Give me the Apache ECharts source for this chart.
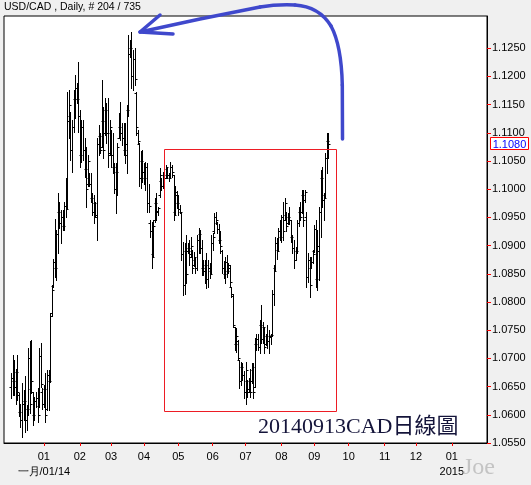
<!DOCTYPE html>
<html>
<head>
<meta charset="utf-8">
<script src="https://cdn.jsdelivr.net/npm/echarts@6/dist/echarts.min.js"></script>
<style>
html,body{margin:0;padding:0;background:#f0f0f0;}
#c{width:531px;height:485px;}
</style>
</head>
<body>
<div id="c"></div>
<script>
// ---------- DATA ----------
const chartTitle = 'USD/CAD , Daily, # 204 / 735';
const calendarStart = '2013-11-27';
const calendarEnd = '2015-02-02';
const lastBarDate = '2014-09-12';

const opens = [
1.0650,1.0665,1.0660,1.0650,1.0675,1.0635,1.0605,1.0590,1.0620,1.0625,
1.0590,1.0610,1.0700,1.0645,1.0640,1.0600,1.0625,1.0630,1.0615,1.0705,
1.0640,1.0620,1.0645,1.0610,1.0670,1.0660,1.0780,1.0828,1.0870,1.0860,
1.0920,1.0960,1.0940,1.0950,1.0935,1.0970,1.0970,1.1120,1.1130,1.1070,
1.1110,1.1160,1.1180,1.1160,1.1130,1.1060,1.1110,1.1070,1.1035,1.1010,
1.1020,1.1010,1.0985,1.0960,1.0975,1.0950,1.1080,1.1095,1.1075,1.1120,
1.1100,1.1140,1.1100,1.1065,1.1100,1.1060,1.1040,1.1000,1.1030,1.1090,
1.1110,1.1100,1.1090,1.1070,1.1060,1.1140,1.1240,1.1250,1.1200,1.1230,
1.1170,1.1100,1.1080,1.1020,1.1050,1.1030,1.1020,1.1040,1.0975,1.0940,
1.0925,1.0885,1.0945,1.0975,1.0962,1.0990,1.1015,1.1005,1.1025,1.1020,
1.1035,1.1025,1.1020,1.1040,1.1025,1.0960,1.0990,1.0975,1.0965,1.0960,
1.0885,1.0830,1.0890,1.0890,1.0895,1.0885,1.0890,1.0865,1.0875,1.0860,
1.0910,1.0920,1.0895,1.0860,1.0855,1.0865,1.0840,1.0860,1.0855,1.0905,
1.0925,1.0950,1.0940,1.0930,1.0910,1.0890,1.0860,1.0850,1.0870,1.0855,
1.0860,1.0827,1.0810,1.0755,1.0725,1.0730,1.0697,1.0660,1.0685,1.0670,
1.0640,1.0660,1.0645,1.0660,1.0660,1.0680,1.0650,1.0725,1.0735,1.0720,
1.0760,1.0735,1.0755,1.0725,1.0740,1.0730,1.0738,1.0742,1.0815,1.0860,
1.0905,1.0892,1.0925,1.0915,1.0950,1.0945,1.0955,1.0940,1.0950,1.0945,
1.0915,1.0895,1.0875,1.0890,1.0940,1.0960,1.0960,1.0990,1.0980,1.0950,
1.0845,1.0875,1.0860,1.0870,1.0890,1.0930,1.0840,1.0890,1.0960,1.1020,
1.0980,1.0990,1.1055,1.1085
];
const highs = [
1.0674,1.0706,1.0697,1.0682,1.0706,1.0638,1.0620,1.0656,1.0644,1.0668,
1.0617,1.0718,1.0730,1.0733,1.0641,1.0632,1.0641,1.0647,1.0718,1.0727,
1.0647,1.0653,1.0674,1.0680,1.0680,1.0780,1.0830,1.0877,1.0948,1.0928,
1.0993,1.0978,1.0963,1.0963,1.0978,1.1019,1.1173,1.1176,1.1137,1.1123,
1.1176,1.1202,1.1188,1.1226,1.1140,1.1123,1.1123,1.1090,1.1075,1.1061,
1.1028,1.1028,1.0993,1.0990,1.0978,1.1090,1.1114,1.1099,1.1194,1.1146,
1.1161,1.1152,1.1161,1.1123,1.1105,1.1099,1.1046,1.1046,1.1081,1.1135,
1.1155,1.1117,1.1117,1.1117,1.1149,1.1273,1.1265,1.1279,1.1247,1.1250,
1.1173,1.1105,1.1081,1.1067,1.1070,1.1046,1.1049,1.1046,1.1010,1.0945,
1.0942,1.0945,1.0984,1.0993,1.0969,1.1037,1.1019,1.1031,1.1028,1.1043,
1.1040,1.1028,1.1049,1.1043,1.1025,1.1005,1.0996,1.0990,1.0972,1.0960,
1.0907,1.0904,1.0919,1.0904,1.0910,1.0916,1.0892,1.0889,1.0880,1.0919,
1.0931,1.0928,1.0910,1.0874,1.0874,1.0886,1.0874,1.0869,1.0919,1.0922,
1.0957,1.0960,1.0942,1.0939,1.0925,1.0892,1.0872,1.0880,1.0883,1.0869,
1.0865,1.0827,1.0815,1.0756,1.0753,1.0733,1.0697,1.0694,1.0691,1.0677,
1.0694,1.0662,1.0665,1.0682,1.0691,1.0691,1.0736,1.0744,1.0744,1.0768,
1.0795,1.0765,1.0756,1.0744,1.0759,1.0750,1.0744,1.0821,1.0866,1.0916,
1.0913,1.0931,1.0945,1.0954,1.0978,1.0984,1.0960,1.0957,1.0969,1.0945,
1.0919,1.0910,1.0898,1.0945,1.0969,1.0978,1.0999,1.0999,1.0999,1.0960,
1.0886,1.0880,1.0880,1.0892,1.0937,1.0945,1.0928,1.0969,1.1034,1.1040,
1.0993,1.1064,1.1099,1.1100
];
const lows = [
1.0629,1.0635,1.0635,1.0620,1.0626,1.0597,1.0579,1.0561,1.0591,1.0570,
1.0573,1.0600,1.0603,1.0638,1.0582,1.0591,1.0614,1.0588,1.0614,1.0650,
1.0611,1.0614,1.0588,1.0609,1.0609,1.0659,1.0775,1.0827,1.0845,1.0839,
1.0886,1.0931,1.0904,1.0928,1.0928,1.0951,1.0965,1.1090,1.1052,1.1031,
1.1102,1.1126,1.1152,1.1102,1.1040,1.1049,1.1052,1.1022,1.0969,1.1005,
1.1005,1.0978,1.0954,1.0940,1.0951,1.0910,1.1061,1.1064,1.1075,1.1055,
1.1096,1.1081,1.1040,1.1061,1.1040,1.1028,1.0993,1.0957,1.0990,1.1090,
1.1087,1.1078,1.1061,1.1046,1.1028,1.1129,1.1235,1.1179,1.1176,1.1185,
1.1096,1.1081,1.1005,1.1002,1.1013,1.1010,1.0999,1.0960,1.0960,1.0916,
1.0860,1.0880,1.0942,1.0945,1.0955,1.0987,1.0999,1.1002,1.1016,1.1019,
1.1019,1.1015,1.1019,1.1022,1.0945,1.0954,1.0966,1.0954,1.0957,1.0874,
1.0812,1.0815,1.0833,1.0886,1.0866,1.0880,1.0851,1.0863,1.0851,1.0857,
1.0886,1.0886,1.0848,1.0848,1.0833,1.0824,1.0827,1.0842,1.0851,1.0892,
1.0922,1.0939,1.0922,1.0904,1.0886,1.0851,1.0842,1.0833,1.0845,1.0851,
1.0827,1.0809,1.0756,1.0715,1.0712,1.0697,1.0647,1.0653,1.0662,1.0629,
1.0620,1.0632,1.0641,1.0632,1.0656,1.0629,1.0650,1.0715,1.0715,1.0709,
1.0727,1.0727,1.0709,1.0724,1.0718,1.0709,1.0725,1.0740,1.0795,1.0857,
1.0877,1.0892,1.0910,1.0907,1.0910,1.0945,1.0925,1.0939,1.0939,1.0907,
1.0886,1.0860,1.0874,1.0886,1.0934,1.0945,1.0957,1.0934,1.0978,1.0827,
1.0836,1.0809,1.0860,1.0869,1.0889,1.0827,1.0821,1.0839,1.0916,1.0969,
1.0945,1.0987,1.1028,1.1055
];
const closes = [
1.0665,1.0660,1.0650,1.0675,1.0640,1.0605,1.0590,1.0620,1.0625,1.0590,
1.0610,1.0700,1.0620,1.0660,1.0600,1.0625,1.0630,1.0600,1.0705,1.0655,
1.0620,1.0645,1.0600,1.0670,1.0660,1.0775,1.0822,1.0870,1.0860,1.0920,
1.0960,1.0940,1.0950,1.0935,1.0970,1.0965,1.1120,1.1150,1.1070,1.1110,
1.1160,1.1180,1.1160,1.1130,1.1060,1.1110,1.1070,1.1035,1.1000,1.1050,
1.1010,1.0985,1.0960,1.0975,1.0955,1.1080,1.1095,1.1070,1.1120,1.1070,
1.1140,1.1100,1.1060,1.1110,1.1060,1.1040,1.1000,1.1030,1.1075,1.1110,
1.1100,1.1090,1.1070,1.1080,1.1140,1.1240,1.1250,1.1200,1.1230,1.1195,
1.1110,1.1085,1.1020,1.1050,1.1030,1.1020,1.1040,1.0975,1.0970,1.0925,
1.0880,1.0935,1.0975,1.0960,1.0966,1.1025,1.1005,1.1025,1.1020,1.1040,
1.1025,1.1020,1.1040,1.1030,1.0955,1.0995,1.0975,1.0965,1.0960,1.0885,
1.0830,1.0890,1.0850,1.0895,1.0880,1.0900,1.0860,1.0880,1.0860,1.0910,
1.0920,1.0895,1.0860,1.0855,1.0865,1.0840,1.0860,1.0850,1.0905,1.0915,
1.0950,1.0945,1.0930,1.0910,1.0900,1.0860,1.0850,1.0870,1.0855,1.0865,
1.0835,1.0815,1.0760,1.0725,1.0740,1.0700,1.0660,1.0685,1.0670,1.0640,
1.0680,1.0640,1.0660,1.0640,1.0685,1.0640,1.0725,1.0735,1.0720,1.0760,
1.0735,1.0755,1.0720,1.0740,1.0730,1.0740,1.0742,1.0815,1.0855,1.0905,
1.0890,1.0925,1.0915,1.0950,1.0925,1.0975,1.0935,1.0950,1.0945,1.0915,
1.0895,1.0875,1.0890,1.0940,1.0960,1.0950,1.0990,1.0945,1.0995,1.0845,
1.0875,1.0830,1.0870,1.0885,1.0930,1.0840,1.0900,1.0960,1.1020,1.0980,
1.0985,1.1055,1.1085,1.1080
];

const yTickValues = [1.055,1.060,1.065,1.070,1.075,1.080,1.085,1.090,1.095,1.100,1.105,1.110,1.115,1.120,1.125];
const xTickMonths = ['2014-01','2014-02','2014-03','2014-04','2014-05','2014-06','2014-07','2014-08','2014-09','2014-10','2014-11','2014-12','2015-01'];
const xTickLabels = ['01','02','03','04','05','06','07','08','09','10','11','12','01'];
const xYearMonths = ['2014-01','2015-01'];
const xYearLabels = ['一月/01/14','2015'];
const noteText = '20140913CAD日線圖';
const signText = 'Joe';

// ---------- CATEGORIES (weekday calendar) ----------
const cats = [];
(function(){
  const s = new Date(calendarStart + 'T00:00:00Z').getTime();
  const e = new Date(calendarEnd + 'T00:00:00Z').getTime();
  for (let t = s; t <= e; t += 86400000) {
    const d = new Date(t); const w = d.getUTCDay();
    if (w !== 0 && w !== 6) cats.push(d.toISOString().slice(0,10));
  }
})();
const lastIdx = cats.indexOf(lastBarDate);
const firstIdx = lastIdx - (closes.length - 1);
const bars = closes.map((c,i)=>[firstIdx+i, opens[i], highs[i], lows[i], c]);

const tickSet = new Set();
xTickMonths.forEach(m => { const k = cats.findIndex(d => d.slice(0,7) === m); if (k >= 0) tickSet.add(k); });
const tickInterval = (i) => tickSet.has(i);

function renderOHLC(params, api){
  const x = api.value(0);
  const pO = api.coord([x, api.value(1)]);
  const pH = api.coord([x, api.value(2)]);
  const pL = api.coord([x, api.value(3)]);
  const pC = api.coord([x, api.value(4)]);
  const cx = Math.round(pO[0]) + 0.5;
  const yo = Math.round(pO[1]) + 0.5, yc = Math.round(pC[1]) + 0.5;
  const st = {stroke:'#000', lineWidth:1};
  return {type:'group', children:[
    {type:'line', shape:{x1:cx, y1:Math.round(pH[1]), x2:cx, y2:Math.round(pL[1])+1}, style:st},
    {type:'line', shape:{x1:cx-2, y1:yo, x2:cx, y2:yo}, style:st},
    {type:'line', shape:{x1:cx, y1:yc, x2:cx+2, y2:yc}, style:st}
  ]};
}

const lastClose = closes[closes.length-1];
const arrowStyle = {fill:'none', stroke:'#3f48cc', lineWidth:3.5, lineJoin:'round', lineCap:'round'};
const chart = echarts.init(document.getElementById('c'), null, {renderer:'canvas'});
chart.setOption({
  animation:false,
  backgroundColor:'#f0f0f0',
  textStyle:{fontFamily:'"Liberation Sans", Arial, sans-serif'},
  grid:{left:4, right:44, top:16, bottom:42, show:true, backgroundColor:'#ffffff', borderColor:'#000', borderWidth:1, containLabel:false},
  xAxis:{
    type:'category', data:cats, boundaryGap:true,
    axisLine:{show:true, lineStyle:{color:'#000', width:1}},
    axisTick:{show:true, alignWithLabel:true, interval:tickInterval, length:3, lineStyle:{color:'#ff0000'}},
    axisLabel:{interval:tickInterval, margin:6, color:'#000', fontSize:11, lineHeight:15,
      formatter:(v)=>{ const m=v.slice(0,7); const k=xTickMonths.indexOf(m); if(k<0) return ''; let s=xTickLabels[k]; const y=xYearMonths.indexOf(m); if(y>=0) s += '\n' + xYearLabels[y]; return s; }},
    splitLine:{show:false}
  },
  yAxis:{
    type:'value', position:'right', min:1.055, max:1.1307, interval:0.005,
    axisLine:{show:true, lineStyle:{color:'#000', width:1}},
    axisTick:{show:true, length:4, lineStyle:{color:'#ff0000'}, customValues:yTickValues},
    axisLabel:{customValues:yTickValues, margin:5, color:'#000', fontSize:11, formatter:(v)=>v.toFixed(4)},
    splitLine:{show:false}
  },
  series:[
    {type:'custom', renderItem:renderOHLC, data:bars, encode:{x:0, y:[1,2,3,4]}, clip:true, z:3, silent:true}
  ],
  graphic:[
    {type:'text', x:4, y:2, z:50, style:{text:chartTitle, font:'10.5px "Liberation Sans"', fill:'#000', verticalAlign:'top'}},
    {type:'rect', z:40, shape:{x:164.5, y:149.5, width:172, height:262}, style:{fill:'none', stroke:'#ed1c24', lineWidth:1}},
    {type:'line', z:45, shape:{x1:342.5, y1:139, x2:342.3, y2:85}, style:arrowStyle},
    {type:'bezierCurve', z:45, shape:{x1:342.3, y1:85, cpx1:341.8, cpy1:62, cpx2:338.5, cpy2:40, x2:331, y2:26}, style:arrowStyle},
    {type:'bezierCurve', z:45, shape:{x1:331, y1:26, cpx1:323, cpy1:13, cpx2:311, cpy2:6, x2:295, y2:5}, style:arrowStyle},
    {type:'bezierCurve', z:45, shape:{x1:295, y1:5, cpx1:285, cpy1:4.5, cpx2:272, cpy2:5, x2:260, y2:7}, style:arrowStyle},
    {type:'polyline', z:45, shape:{points:[[260,7],[200,19],[140,32]]}, style:arrowStyle},
    {type:'polyline', z:45, shape:{points:[[160,15],[140,32],[173,34]]}, style:arrowStyle},
    {type:'text', x:258, y:427, z:50, style:{text:noteText, font:'22px "Liberation Serif", "Noto Sans CJK TC", serif', fill:'#14143a', verticalAlign:'middle'}},
    {type:'text', x:463, y:468, z:50, style:{text:signText, font:'24px "Liberation Serif", serif', fill:'#c4c4c4', verticalAlign:'middle'}}
  ]
});
// current-price box on the right axis, placed through the y scale
const pyLast = chart.convertToPixel({yAxisIndex:0}, lastClose);
chart.setOption({graphic:[
  {id:'lastBox', type:'rect', z:60, shape:{x:490.5, y:Math.round(pyLast)-6.5, width:38, height:12}, style:{fill:'#ffffff', stroke:'#ff0000', lineWidth:1}},
  {id:'lastTxt', type:'text', z:61, x:509.5, y:Math.round(pyLast)+0.5, style:{text:lastClose.toFixed(4), font:'11px "Liberation Sans"', fill:'#0000ff', align:'center', verticalAlign:'middle'}}
]});
</script>
</body>
</html>
